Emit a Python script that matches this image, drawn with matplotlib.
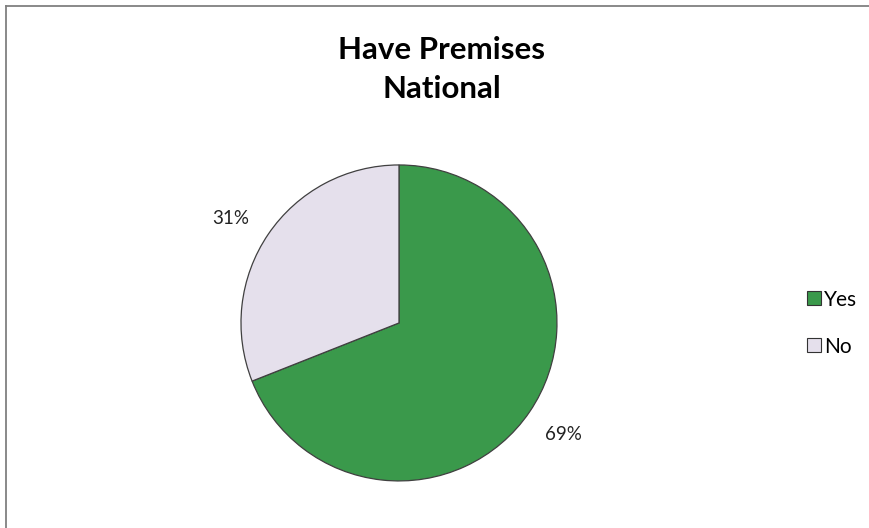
import matplotlib
matplotlib.use('Agg')
import matplotlib.pyplot as plt
from matplotlib.lines import Line2D

labels = ['Yes', 'No']
values = [69, 31]
colors = ['#3a994b', '#e5e0ec']

plt.rcParams['font.family'] = ['Lato', 'DejaVu Sans']

fig = plt.figure(figsize=(8.7, 5.28), dpi=100)
ax = fig.add_axes([0.2770, 0.0891, 0.3632, 0.5985])

wedges, texts, autotexts = ax.pie(values, colors=colors, startangle=90, counterclock=False,
                                  autopct='%d%%', pctdistance=1.26, radius=1,
                                  wedgeprops={'edgecolor': '#404040', 'linewidth': 0.9})
for t in autotexts:
    t.set_fontsize(13.5)
    t.set_color('#222222')
# 31% label sits a bit lower in the original
x, y = autotexts[1].get_position()
autotexts[1].set_position((x - 0.02, y - 0.05))
ax.set_xlim(-1, 1)
ax.set_ylim(-1, 1)
ax.set_aspect('equal')
ax.axis('off')

fig.text(0.5075, 0.906, 'Have Premises', ha='center', va='center', fontsize=22.5, fontweight='bold')
fig.text(0.5075, 0.8314, 'National', ha='center', va='center', fontsize=22.5, fontweight='bold')

handles = [Line2D([], [], marker='s', linestyle='', markersize=10.5, markerfacecolor=c,
                  markeredgecolor='#333333', markeredgewidth=0.8) for c in colors]
fig.legend(handles, labels, loc='center left', bbox_to_anchor=(0.914, 0.388),
           frameon=False, fontsize=15, handletextpad=0.0, labelspacing=1.3,
           handlelength=1.0, borderaxespad=0)

# border on top and left
fig.add_artist(Line2D([0.0069, 0.0069], [0, 0.9886], transform=fig.transFigure, color='#808080', lw=1.3))
fig.add_artist(Line2D([0.0069, 1.0], [0.9886, 0.9886], transform=fig.transFigure, color='#808080', lw=1.3))

fig.savefig('out.png', dpi=100)
